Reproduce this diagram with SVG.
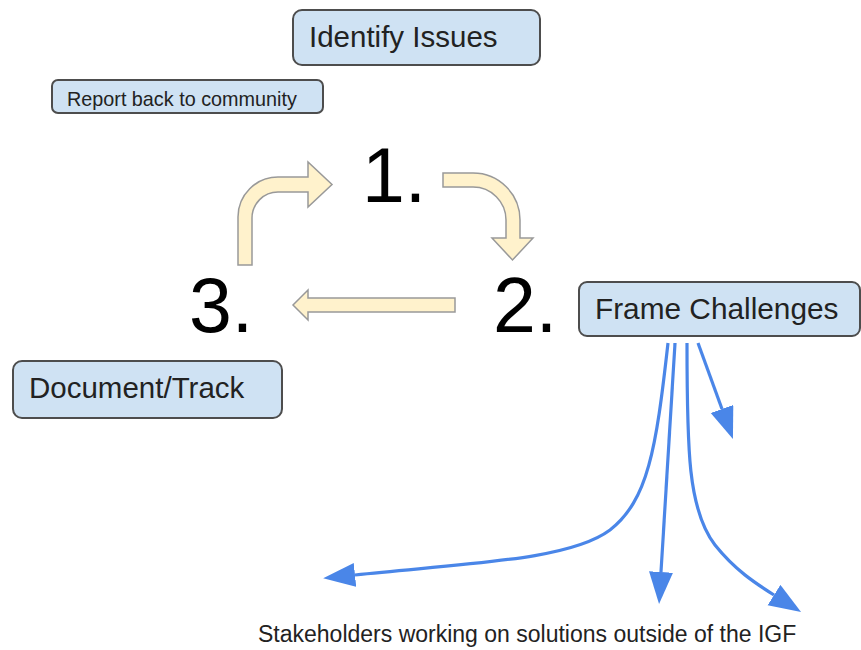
<svg xmlns="http://www.w3.org/2000/svg" width="861" height="650" viewBox="0 0 861 650">
  <style>
    .box { fill: #cfe2f3; stroke: #4d4d4d; stroke-width: 2; }
    .lbl { font-family: "Liberation Sans", Arial, sans-serif; fill: #222222; }
    .num { font-family: "Liberation Sans", Arial, sans-serif; fill: #000000; font-size: 77px; }
    .cyc { fill: #fff2cc; stroke: #999999; stroke-width: 1.5; stroke-linejoin: miter; }
    .blue { fill: none; stroke: #4a86e8; stroke-width: 3.2; }
  </style>
  <defs>
    <marker id="bh" markerUnits="userSpaceOnUse" markerWidth="34" markerHeight="26" refX="0" refY="12" orient="auto">
      <path d="M0,0 L32,12 L0,24 Z" fill="#4a86e8"/>
    </marker>
  </defs>
  <rect width="861" height="650" fill="#ffffff"/>

  <g id="identify-issues">
    <rect class="box" x="293" y="10" width="247" height="55" rx="9"/>
    <text class="lbl" x="309" y="47" font-size="29.5">Identify Issues</text>
  </g>
  <g id="report-back">
    <rect class="box" x="52" y="80" width="271" height="33" rx="6"/>
    <text class="lbl" x="67" y="106" font-size="19.8">Report back to community</text>
  </g>
  <g id="frame-challenges">
    <rect class="box" x="579" y="282" width="281" height="54" rx="8"/>
    <text class="lbl" x="595" y="319" font-size="29.8">Frame Challenges</text>
  </g>
  <g id="document-track">
    <rect class="box" x="13" y="361" width="269" height="57" rx="9"/>
    <text class="lbl" x="29" y="398" font-size="29.5">Document/Track</text>
  </g>
  <g id="step-1"><text class="num" x="362" y="202">1.</text></g>
  <g id="step-2"><text class="num" x="493" y="332">2.</text></g>
  <g id="step-3"><text class="num" x="189" y="332">3.</text></g>
  <g id="bottom-label">
    <text class="lbl" x="258" y="642" font-size="23">Stakeholders working on solutions outside of the IGF</text>
  </g>

  <g id="connectors">
    <path class="cyc" d="M238,265 L238,217 A40,40 0 0 1 278,177 L308,177 L308,162 L332,184.5 L308,207 L308,192 L278,192 A26,26 0 0 0 252,218 L252,265 Z"/>
    <path class="cyc" d="M443,173 L473,173 A47,47 0 0 1 520,220 L520,238 L533,238 L512.5,260 L492,238 L506,238 L506,220 A33,33 0 0 0 473,187 L443,187 Z"/>
    <path class="cyc" d="M455,298 L455,312 L308,312 L308,320 L293,305 L308,290 L308,298 Z"/>
    <path class="blue" marker-end="url(#bh)" d="M668,343 C656,450 648,500 610,530 C570,560 470,563 355,575"/>
    <path class="blue" marker-end="url(#bh)" d="M675,343 L661,572"/>
    <path class="blue" marker-end="url(#bh)" d="M687,343 C687,450 688,510 715,545 C735,570 755,583 774,595"/>
    <path class="blue" marker-end="url(#bh)" d="M698,343 L722,409"/>
  </g>
</svg>
